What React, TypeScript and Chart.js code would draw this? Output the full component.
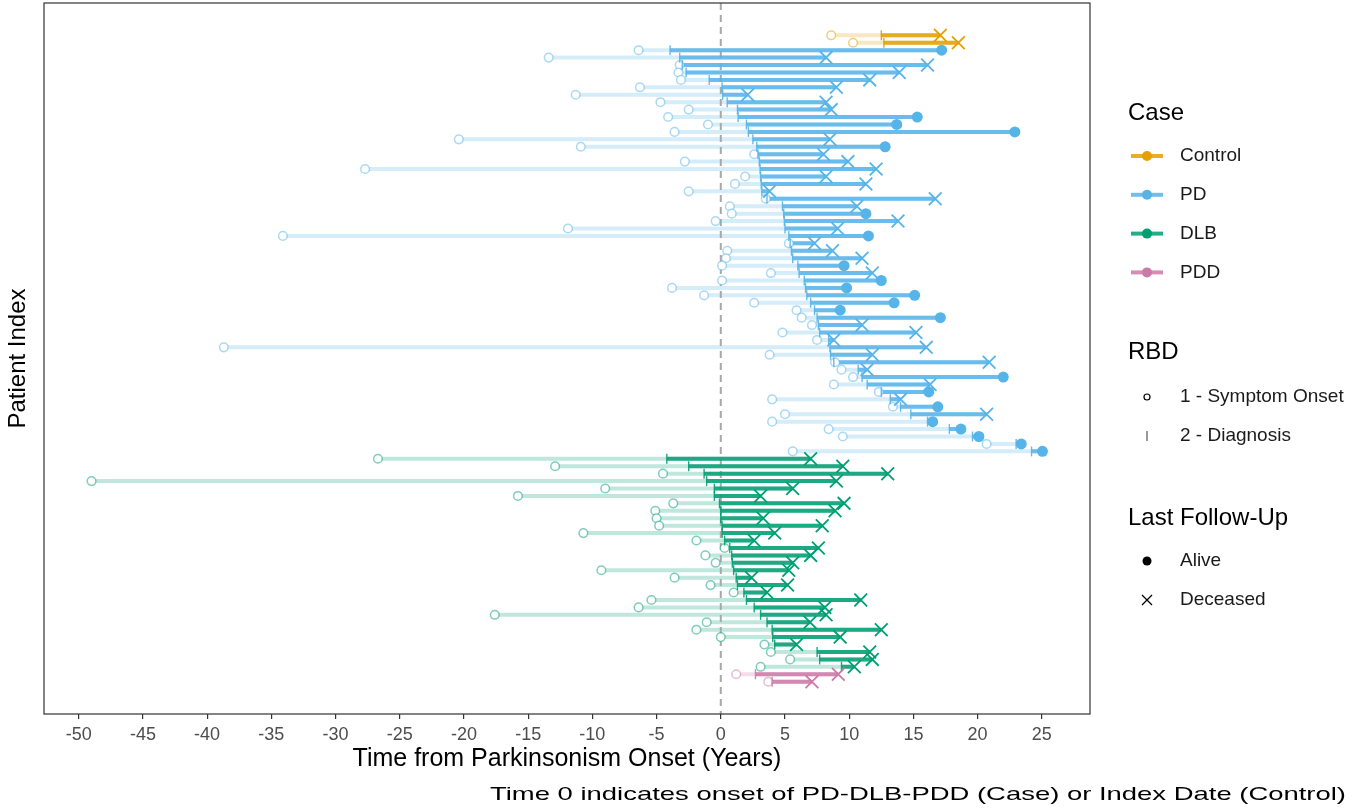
import { useEffect, useRef } from "react";
import { Chart, registerables } from "chart.js";

Chart.register(...registerables);

const FONT = "'Liberation Sans', Arial, Helvetica, sans-serif";

// ---- categories ----
const caseNames = ["Control", "PD", "DLB", "PDD"];
const caseColors = ["#E69F00", "#56B4E9", "#009E73", "#CC79A7"];
const rbdLabels = ["1 - Symptom Onset", "2 - Diagnosis"];
const followUpLabels = ["Alive", "Deceased"];
const xTicks = [-50, -45, -40, -35, -30, -25, -20, -15, -10, -5, 0, 5, 10, 15, 20, 25];

// ---- Control ----
const controlOnset = [8.6, 10.3];
const controlDiagnosis = [12.5, 12.7];
const controlFollowUp = [17.1, 18.5];
const controlDeceased = [1, 1];

// ---- PD ----
const pdOnset = [-6.4, -13.4, -3.2, -3.3, -3.1, -6.3, -11.3, -4.7, -2.5, -4.1, -1.0, -3.6, -20.4, -10.9, 2.6, -2.8, -27.7, 1.9, 1.1, -2.5, 3.5, 0.7, 0.85, -0.4, -11.9, -34.1, 5.3, 0.5, 0.4, 0.1, 3.9, 0.1, -3.8, -1.3, 2.6, 5.9, 6.3, 7.1, 4.8, 7.5, -38.7, 3.8, 8.9, 9.4, 10.3, 8.8, 12.3, 4.0, 13.4, 5.0, 4.0, 8.4, 9.5, 20.7, 5.6];
const pdDiagnosis = [-3.95, -3.2, -3.0, -2.7, -0.9, 0.1, 0.15, 0.5, 1.3, 1.35, 2.0, 2.15, 2.5, 2.8, 2.9, 3.0, 3.06, 3.1, 3.15, 3.2, 3.6, 4.8, 4.9, 4.95, 5.0, 5.3, 5.4, 5.5, 5.6, 6.0, 6.1, 6.5, 6.6, 6.7, 7.0, 7.3, 7.5, 7.6, 7.7, 8.4, 8.5, 8.55, 8.8, 10.7, 11.0, 11.4, 12.5, 13.2, 14.0, 14.8, 16.1, 17.8, 19.6, 23.0, 24.2];
const pdFollowUp = [17.2, 8.2, 16.1, 13.9, 11.6, 9.0, 2.1, 8.2, 8.6, 15.3, 13.7, 22.9, 8.5, 12.8, 8.0, 9.9, 12.1, 8.2, 11.3, 3.8, 16.7, 10.6, 11.3, 13.8, 9.1, 11.5, 7.3, 8.7, 11.0, 9.6, 11.8, 12.5, 9.8, 15.1, 13.5, 9.3, 17.1, 11.0, 15.2, 8.8, 16.0, 11.8, 20.9, 11.4, 22.0, 16.3, 16.2, 14.0, 16.9, 20.7, 16.5, 18.7, 20.1, 23.4, 25.05];
const pdDeceased = [0, 1, 1, 1, 1, 1, 1, 1, 1, 0, 0, 0, 1, 0, 1, 1, 1, 1, 1, 1, 1, 1, 0, 1, 1, 0, 1, 1, 1, 0, 1, 0, 0, 0, 0, 0, 0, 1, 1, 1, 1, 1, 1, 1, 0, 1, 0, 1, 0, 1, 0, 0, 0, 0, 0];

// ---- DLB ----
const dlbOnset = [-26.7, -12.9, -4.5, -49.0, -9.0, -15.8, -3.7, -5.1, -5.0, -4.8, -10.7, -1.9, 0.3, -1.2, -0.4, -9.3, -3.6, -0.8, 1.0, -5.4, -6.4, -17.6, -1.1, -1.9, 0.0, 3.4, 3.9, 5.4, 3.1];
const dlbDiagnosis = [-4.2, -2.5, -1.3, -1.1, -0.5, -0.5, -0.1, 0.0, 0.0, 0.1, 0.1, 0.3, 0.7, 0.85, 0.9, 1.0, 1.2, 1.3, 1.8, 2.0, 2.6, 3.1, 3.6, 4.0, 4.05, 4.2, 7.5, 7.7, 9.4];
const dlbFollowUp = [7.0, 9.5, 13.0, 9.0, 5.6, 3.1, 9.6, 8.9, 3.3, 7.9, 4.2, 2.6, 7.6, 7.0, 5.6, 5.3, 2.4, 5.2, 3.6, 10.9, 8.1, 8.2, 6.95, 12.5, 9.3, 5.9, 11.6, 11.8, 10.4];
const dlbDeceased = [1, 1, 1, 1, 1, 1, 1, 1, 1, 1, 1, 1, 1, 1, 1, 1, 1, 1, 1, 1, 1, 1, 1, 1, 1, 1, 1, 1, 1];

// ---- PDD ----
const pddOnset = [1.2, 3.7];
const pddDiagnosis = [2.7, 4.0];
const pddFollowUp = [9.15, 7.1];
const pddDeceased = [1, 1];

const groups = [
  { onset: controlOnset, diagnosis: controlDiagnosis, followUp: controlFollowUp, deceased: controlDeceased },
  { onset: pdOnset, diagnosis: pdDiagnosis, followUp: pdFollowUp, deceased: pdDeceased },
  { onset: dlbOnset, diagnosis: dlbDiagnosis, followUp: dlbFollowUp, deceased: dlbDeceased },
  { onset: pddOnset, diagnosis: pddDiagnosis, followUp: pddFollowUp, deceased: pddDeceased },
];

function rgba(hex: string, a: number) {
  const n = parseInt(hex.slice(1), 16);
  return `rgba(${(n >> 16) & 255},${(n >> 8) & 255},${n & 255},${a})`;
}

const totalRows = groups.reduce((s, g) => s + g.onset.length, 0);
const allX = groups.flatMap((g) => [...g.onset, ...g.diagnosis, ...g.followUp]);
const xLo = Math.min(...allX);
const xHi = Math.max(...allX);
const xPad = (xHi - xLo) * 0.05;
const yPad = (totalRows - 1) * 0.05;
const Y_MIN = 1 - yPad;
const Y_MAX = totalRows + yPad;

function buildDatasets() {
  const ds: any[] = [];
  let row = 1;
  groups.forEach((g, gi) => {
    const color = caseColors[gi];
    const light: any[] = [];
    const dark: any[] = [];
    const onsetPts: any[] = [];
    const diagPts: any[] = [];
    const alivePts: any[] = [];
    const deadPts: any[] = [];
    g.onset.forEach((_, i) => {
      const y = row++;
      light.push({ x: g.onset[i], y }, { x: g.followUp[i], y }, { x: null, y: null });
      dark.push({ x: g.diagnosis[i], y }, { x: g.followUp[i], y }, { x: null, y: null });
      onsetPts.push({ x: g.onset[i], y });
      diagPts.push({ x: g.diagnosis[i], y });
      (g.deceased[i] ? deadPts : alivePts).push({ x: g.followUp[i], y });
    });
    ds.push({
      label: caseNames[gi] + " onset-line",
      data: light,
      showLine: true,
      spanGaps: false,
      borderColor: rgba(color, 0.25),
      borderWidth: 4,
      borderCapStyle: "butt",
      pointRadius: 0,
      order: 60,
    });
    ds.push({
      label: caseNames[gi] + " diag-line",
      data: dark,
      showLine: true,
      spanGaps: false,
      borderColor: rgba(color, 0.85),
      borderWidth: 4,
      borderCapStyle: "butt",
      pointRadius: 0,
      order: 40,
    });
    ds.push({
      label: caseNames[gi] + " onset",
      data: onsetPts,
      pointStyle: "circle",
      pointRadius: 4.3,
      pointBorderWidth: 1.5,
      pointBorderColor: rgba(color, 0.5),
      pointBackgroundColor: "#ffffff",
      order: 30,
    });
    ds.push({
      label: caseNames[gi] + " diagnosis",
      data: diagPts,
      pointStyle: "line",
      pointRotation: 90,
      pointRadius: 5,
      pointBorderWidth: 1.4,
      pointBorderColor: rgba(color, 0.9),
      order: 20,
    });
    ds.push({
      label: caseNames[gi] + " alive",
      data: alivePts,
      pointStyle: "circle",
      pointRadius: 5.5,
      pointBorderWidth: 0,
      pointBackgroundColor: color,
      pointBorderColor: color,
      order: 10,
    });
    ds.push({
      label: caseNames[gi] + " deceased",
      data: deadPts,
      pointStyle: "crossRot",
      pointRadius: 9,
      pointBorderWidth: 1.8,
      pointBorderColor: color,
      order: 10,
    });
  });
  ds.push({
    label: "zero",
    data: [
      { x: 0, y: Y_MIN },
      { x: 0, y: Y_MAX },
    ],
    showLine: true,
    borderColor: "#A8A8A8",
    borderWidth: 2,
    borderDash: [7, 5],
    pointRadius: 0,
    order: 50,
  });
  return ds;
}

const CAPTION = "Time 0 indicates onset of PD-DLB-PDD (Case) or Index Date (Control)";

const decorPlugin = {
  id: "decor",
  afterDraw(chart: any) {
    const { ctx, chartArea } = chart;
    ctx.save();
    // panel border
    ctx.strokeStyle = "#333333";
    ctx.lineWidth = 1.2;
    ctx.strokeRect(chartArea.left, chartArea.top, chartArea.right - chartArea.left, chartArea.bottom - chartArea.top);

    // legend
    const titleX = 1128;
    const keyL = 1131;
    const keyR = 1163;
    const keyC = 1147;
    const labelX = 1180;
    ctx.textAlign = "left";
    ctx.textBaseline = "middle";
    const title = (t: string, y: number) => {
      ctx.fillStyle = "#000000";
      ctx.font = `24px ${FONT}`;
      ctx.fillText(t, titleX, y);
    };
    const label = (t: string, y: number) => {
      ctx.fillStyle = "#1A1A1A";
      ctx.font = `19px ${FONT}`;
      ctx.fillText(t, labelX, y);
    };
    title("Case", 113);
    caseNames.forEach((n, i) => {
      const y = 156 + i * 38.8;
      ctx.strokeStyle = rgba(caseColors[i], 0.85);
      ctx.lineWidth = 4;
      ctx.beginPath();
      ctx.moveTo(keyL, y);
      ctx.lineTo(keyR, y);
      ctx.stroke();
      ctx.fillStyle = caseColors[i];
      ctx.beginPath();
      ctx.arc(keyC, y, 5, 0, Math.PI * 2);
      ctx.fill();
      label(n, y);
    });
    title("RBD", 352);
    ctx.strokeStyle = "#000000";
    ctx.lineWidth = 1.2;
    ctx.beginPath();
    ctx.arc(keyC, 397, 3, 0, Math.PI * 2);
    ctx.stroke();
    label(rbdLabels[0], 397);
    ctx.strokeStyle = "#555555";
    ctx.lineWidth = 1.2;
    ctx.beginPath();
    ctx.moveTo(keyC, 431);
    ctx.lineTo(keyC, 441);
    ctx.stroke();
    label(rbdLabels[1], 436);

    title("Last Follow-Up", 518);
    ctx.fillStyle = "#000000";
    ctx.beginPath();
    ctx.arc(keyC, 561, 4.5, 0, Math.PI * 2);
    ctx.fill();
    label(followUpLabels[0], 561);
    ctx.strokeStyle = "#000000";
    ctx.lineWidth = 1.3;
    ctx.beginPath();
    ctx.moveTo(keyC - 5, 595);
    ctx.lineTo(keyC + 5, 605);
    ctx.moveTo(keyC + 5, 595);
    ctx.lineTo(keyC - 5, 605);
    ctx.stroke();
    label(followUpLabels[1], 600);

    // caption (right aligned, stretched horizontally like the reference)
    ctx.fillStyle = "#000000";
    ctx.font = `19px ${FONT}`;
    ctx.textAlign = "left";
    const w = ctx.measureText(CAPTION).width;
    const targetW = 856;
    const sx = targetW / w;
    ctx.translate(1346 - targetW, 795);
    ctx.scale(sx, 1);
    ctx.fillText(CAPTION, 0, 0);
    ctx.restore();
  },
};

export default function App() {
  const ref = useRef<HTMLCanvasElement | null>(null);
  useEffect(() => {
    if (!ref.current) return;
    const chart = new Chart(ref.current, {
      type: "scatter",
      data: { datasets: buildDatasets() },
      options: {
        responsive: false,
        animation: false,
        events: [],
        layout: { autoPadding: false, padding: { left: 0, right: 278, top: 3, bottom: 0 } },
        plugins: {
          legend: { display: false },
          tooltip: { enabled: false },
        },
        scales: {
          x: {
            type: "linear",
            min: xLo - xPad,
            max: xHi + xPad,
            afterBuildTicks: (scale: any) => {
              scale.ticks = xTicks.map((v) => ({ value: v }));
            },
            afterFit: (scale: any) => {
              scale.height = 97;
            },
            ticks: {
              font: { family: FONT, size: 18 },
              color: "#4D4D4D",
              padding: 5,
              maxRotation: 0,
              autoSkip: false,
            },
            grid: {
              display: true,
              drawOnChartArea: false,
              drawTicks: true,
              tickLength: 5,
              color: "#333333",
              lineWidth: 1.2,
            },
            border: { display: false },
            title: {
              display: true,
              text: "Time from Parkinsonism Onset (Years)",
              font: { family: FONT, size: 25 },
              color: "#000000",
              padding: { top: 0, bottom: 37 },
            },
          },
          y: {
            type: "linear",
            reverse: true,
            min: Y_MIN,
            max: Y_MAX,
            afterFit: (scale: any) => {
              scale.width = 44;
            },
            ticks: { display: false },
            grid: { display: false },
            border: { display: false },
            title: {
              display: true,
              text: "Patient Index",
              font: { family: FONT, size: 24 },
              color: "#000000",
              padding: { top: 4, bottom: 0 },
            },
          },
        },
      } as any,
      plugins: [decorPlugin],
    });
    return () => chart.destroy();
  }, []);
  return (
    <div style={{ position: "absolute", left: 0, top: 0, width: 1368, height: 811, background: "#ffffff" }}>
      <canvas ref={ref} width={1368} height={811} style={{ display: "block" }} />
    </div>
  );
}
